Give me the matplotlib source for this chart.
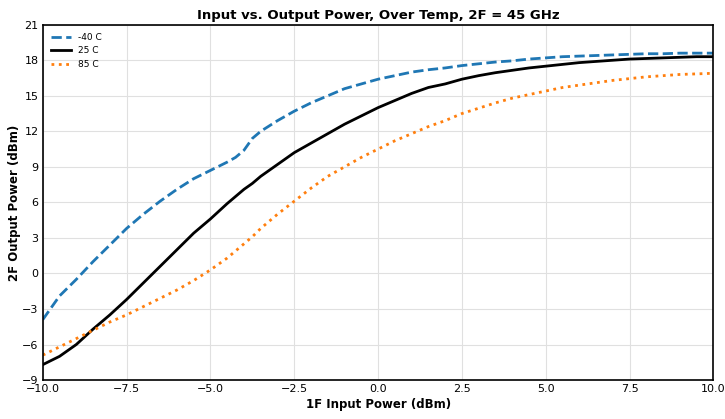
import matplotlib
matplotlib.use("Agg")
import matplotlib.pyplot as plt
import numpy as np

pin = [-10, -9.5, -9, -8.5, -8, -7.5, -7, -6.5, -6, -5.5, -5, -4.5, -4.25, -4, -3.75, -3.5, -3, -2.5, -2, -1.5, -1, -0.5,
       0, 0.5, 1, 1.5, 2, 2.5, 3, 3.5, 4, 4.5, 5, 5.5, 6, 6.5, 7, 7.5, 8, 8.5, 9, 9.5, 10]

p_m40 = [-3.9, -1.9, -0.5, 1.0, 2.4, 3.8, 5.0, 6.1, 7.1, 8.0, 8.7, 9.4, 9.8, 10.4, 11.4, 12.0, 12.9, 13.7, 14.4, 15.0, 15.6, 16.0,
         16.4, 16.7, 17.0, 17.2, 17.35, 17.55, 17.7, 17.85, 17.95, 18.1, 18.2, 18.3, 18.35, 18.4, 18.45, 18.5, 18.55, 18.55, 18.6, 18.6, 18.6]

p_25 = [-7.7, -7.0, -6.0, -4.7, -3.5, -2.2, -0.8, 0.6, 2.0, 3.4, 4.6, 5.9, 6.5, 7.1, 7.6, 8.2, 9.2, 10.2, 11.0, 11.8, 12.6, 13.3,
        14.0, 14.6, 15.2, 15.7, 16.0, 16.4, 16.7, 16.95, 17.15, 17.35, 17.5, 17.65, 17.8, 17.9, 18.0, 18.1, 18.15, 18.2, 18.25, 18.3, 18.3]

p_85 = [-6.9, -6.2, -5.5, -4.8, -4.1, -3.5, -2.8, -2.1, -1.4, -0.6, 0.3, 1.3, 1.9, 2.5, 3.1, 3.8, 5.0, 6.1, 7.2, 8.2, 9.0, 9.8,
        10.5, 11.2, 11.8, 12.4, 12.9, 13.5, 13.95, 14.4, 14.8, 15.1, 15.4, 15.7, 15.9, 16.1, 16.3, 16.45, 16.6, 16.7, 16.8, 16.85, 16.9]

labels = ["-40 C", "25 C", "85 C"]

fig = plt.figure(figsize=(7.25, 4.19), dpi=100)
ax = fig.add_axes([0.059, 0.093, 0.925, 0.848])
ax.plot(pin, p_m40, color="#1f77b4", linestyle="--", linewidth=2.0, label=labels[0])
ax.plot(pin, p_25, color="black", linestyle="-", linewidth=2.0, label=labels[1])
ax.plot(pin, p_85, color="#ff7f0e", linestyle=":", linewidth=2.0, label=labels[2])

ax.set_xlim(-10, 10)
ax.set_ylim(-9, 21)
ax.set_xticks(np.arange(-10, 10.1, 2.5))
ax.set_yticks(np.arange(-9, 21.1, 3))
ax.grid(True, color="#e0e0e0", linewidth=0.8)
ax.set_axisbelow(True)
for s in ax.spines.values():
    s.set_linewidth(1.2)
ax.tick_params(labelsize=8, length=0, pad=3)
ax.set_title("Input vs. Output Power, Over Temp, 2F = 45 GHz", fontsize=9.5, fontweight="bold", pad=4)
ax.set_xlabel("1F Input Power (dBm)", fontsize=8.5, fontweight="bold", labelpad=3)
ax.set_ylabel("2F Output Power (dBm)", fontsize=8.5, fontweight="bold", labelpad=1)
ax.legend(loc="upper left", fontsize=6.5, frameon=False, handlelength=2.2)

fig.savefig("out.png", dpi=100)
